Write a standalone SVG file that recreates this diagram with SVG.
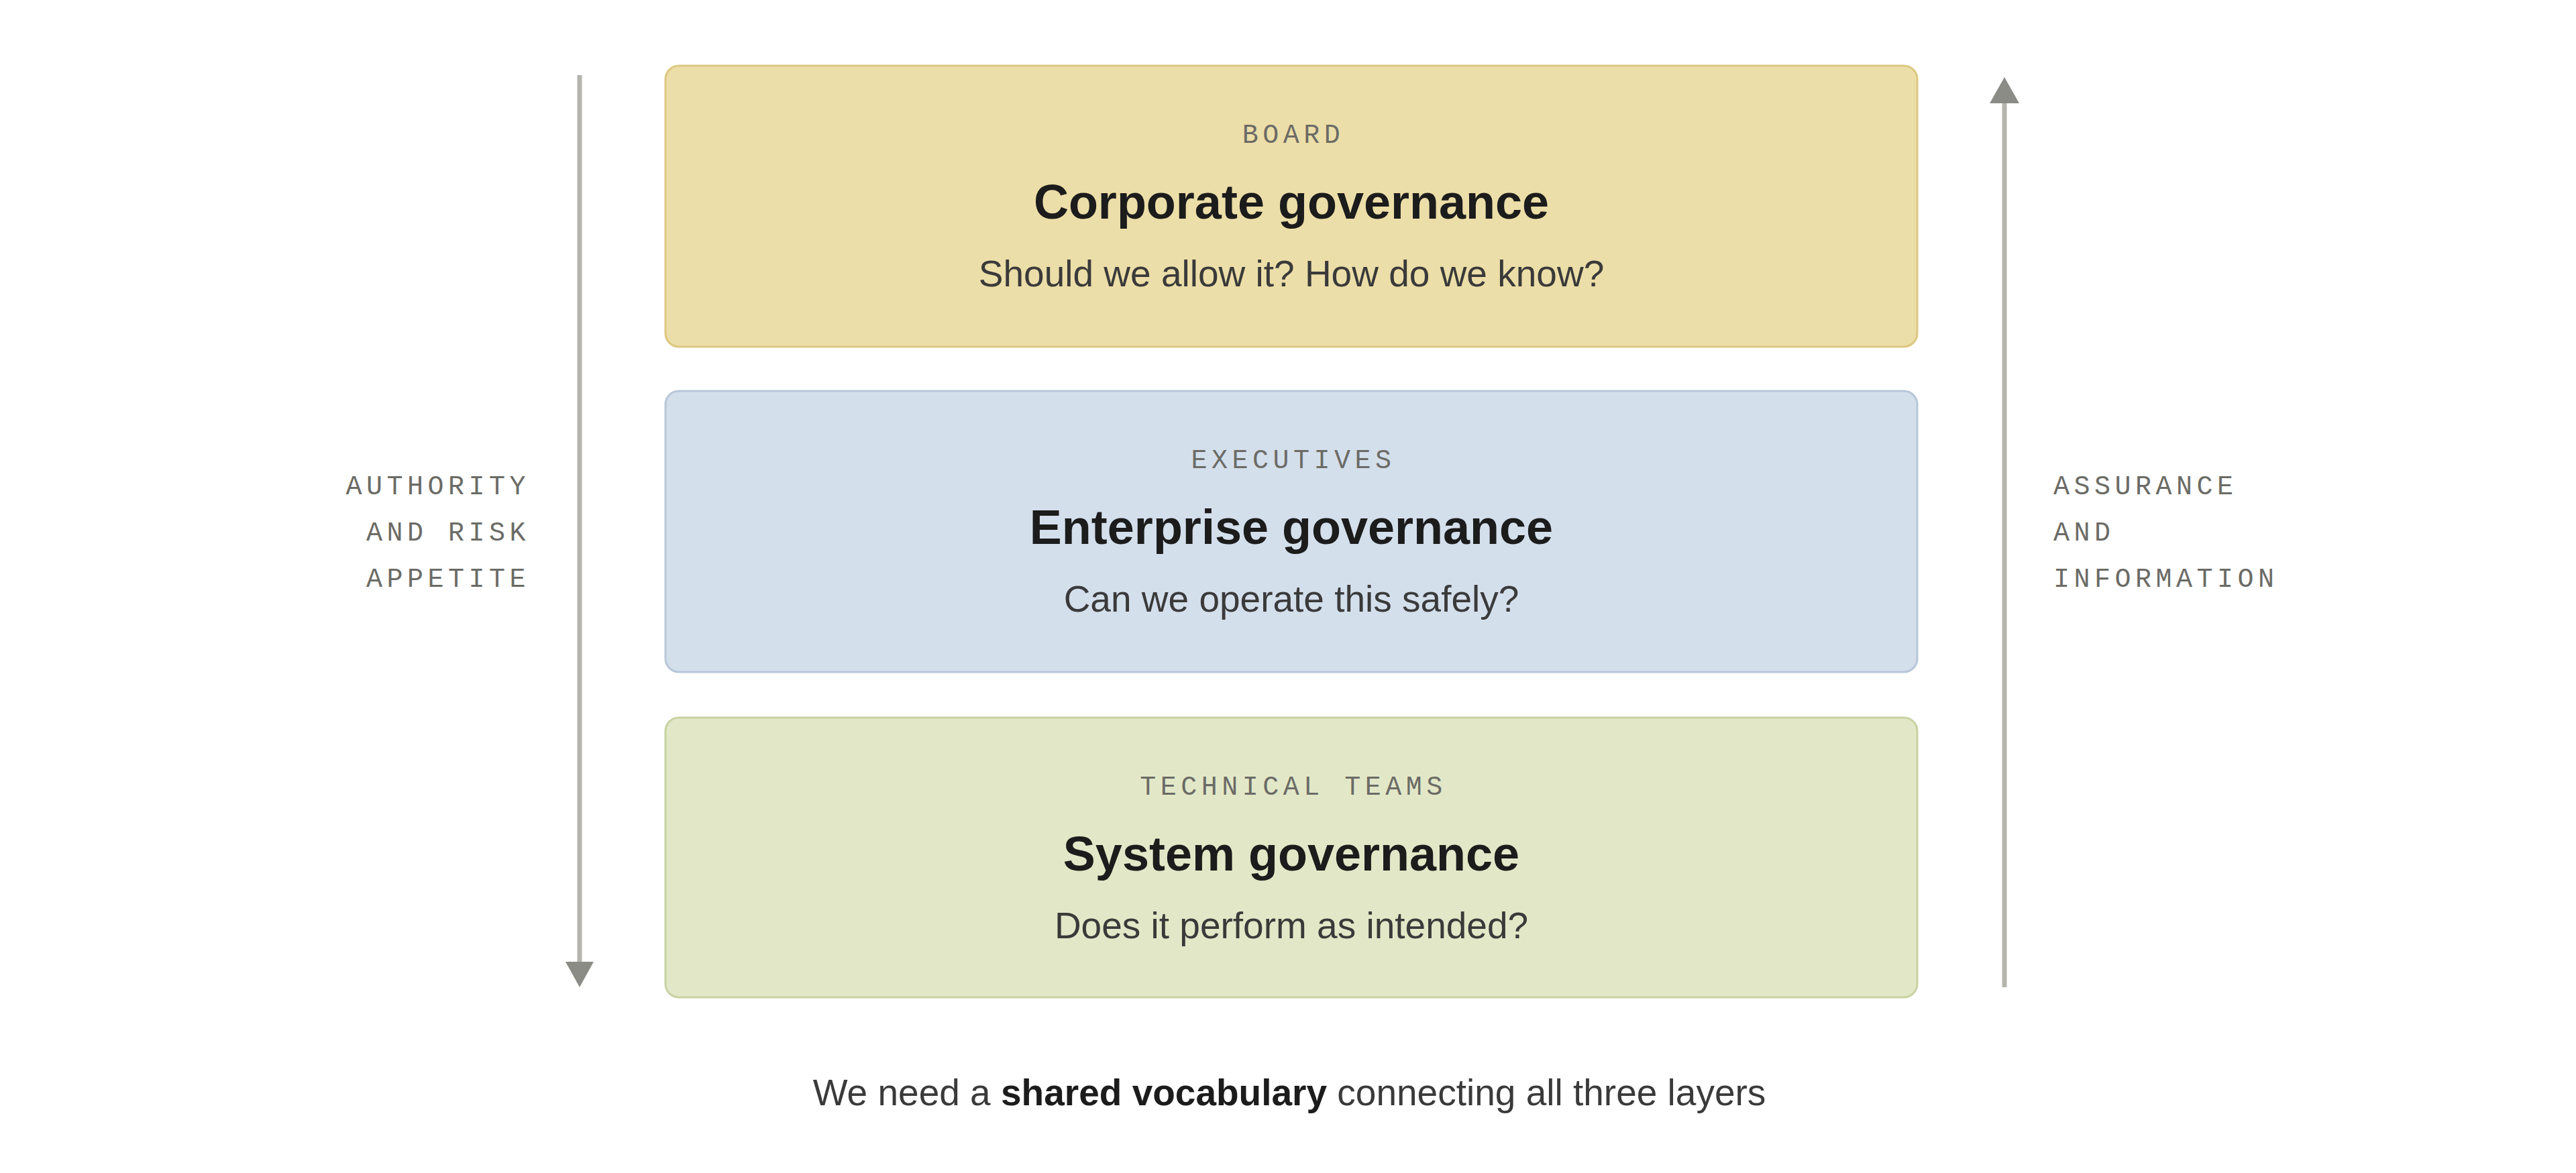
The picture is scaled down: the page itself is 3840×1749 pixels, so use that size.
<svg xmlns="http://www.w3.org/2000/svg" width="3840" height="1749" viewBox="0 0 3840 1749">
<style>
.box{stroke-width:3}
.tag{font-family:"Liberation Mono","DejaVu Sans Mono",monospace;font-size:40px;letter-spacing:6.5px;fill:#6b6b66}
.title{font-family:"Liberation Sans","Noto Sans",sans-serif;font-size:72px;font-weight:bold;fill:#1c1c1c;text-anchor:middle}
.sub{font-family:"Liberation Sans","Noto Sans",sans-serif;font-size:55px;fill:#3a3a3a;text-anchor:middle}
.mid{text-anchor:middle}
.line{stroke:#b5b5ad;stroke-width:7;fill:none}
.head{fill:#8c8c86}
.foot{font-family:"Liberation Sans","Noto Sans",sans-serif;font-size:55px;fill:#3a3a3a;text-anchor:middle}
</style>
<rect width="3840" height="1749" fill="#ffffff"/>
<g id="connectors">
<line class="line" x1="864" y1="112" x2="864" y2="1436"/>
<polygon class="head" points="843,1434 885,1434 864,1472"/>
<line class="line" x1="2988" y1="150" x2="2988" y2="1472"/>
<polygon class="head" points="2966,154 3010,154 2988,115"/>
</g>
<g id="label-left">
<text class="tag" x="790" y="737" text-anchor="end">AUTHORITY</text>
<text class="tag" x="790" y="806" text-anchor="end">AND RISK</text>
<text class="tag" x="790" y="875" text-anchor="end">APPETITE</text>
</g>
<g id="label-right">
<text class="tag" x="3061" y="737">ASSURANCE</text>
<text class="tag" x="3061" y="806">AND</text>
<text class="tag" x="3061" y="875">INFORMATION</text>
</g>
<g id="board">
<rect class="box" x="992" y="98" width="1866" height="419" rx="20" fill="#ecdea8" stroke="#dcc880"/>
<text class="tag mid" x="1928" y="213">BOARD</text>
<text class="title" x="1925" y="326">Corporate governance</text>
<text class="sub" x="1925" y="427">Should we allow it? How do we know?</text>
</g>
<g id="executives">
<rect class="box" x="992" y="583" width="1866" height="419" rx="20" fill="#d4dfec" stroke="#b7c7d8"/>
<text class="tag mid" x="1928" y="698">EXECUTIVES</text>
<text class="title" x="1925" y="811">Enterprise governance</text>
<text class="sub" x="1925" y="912">Can we operate this safely?</text>
</g>
<g id="technical">
<rect class="box" x="992" y="1070" width="1866" height="417" rx="20" fill="#e2e8c7" stroke="#c8d2a2"/>
<text class="tag mid" x="1928" y="1185">TECHNICAL TEAMS</text>
<text class="title" x="1925" y="1298">System governance</text>
<text class="sub" x="1925" y="1399">Does it perform as intended?</text>
</g>
<g id="footer">
<text class="foot" x="1922" y="1648">We need a <tspan font-weight="bold" fill="#1c1c1c">shared vocabulary</tspan> connecting all three layers</text>
</g>
</svg>
